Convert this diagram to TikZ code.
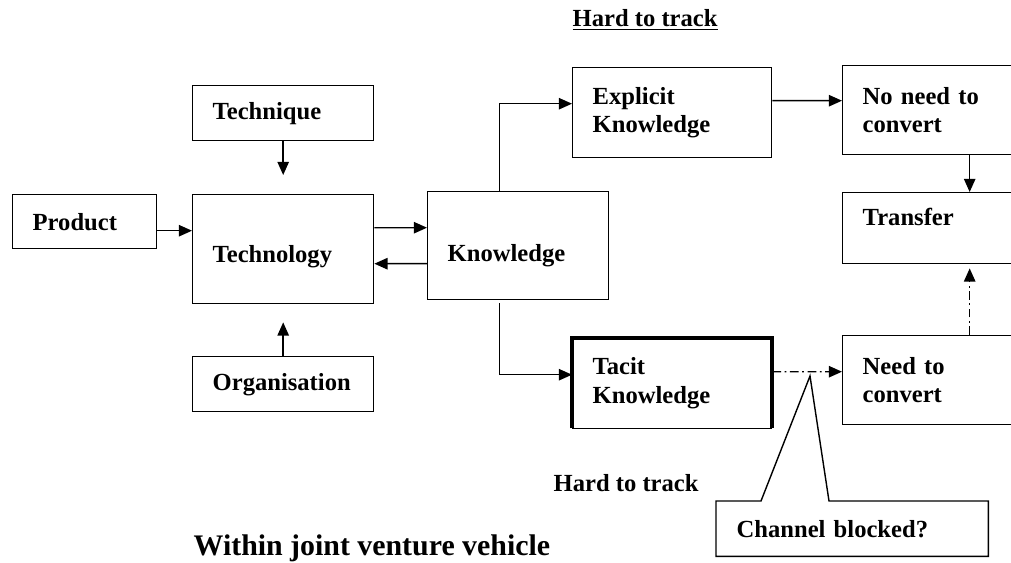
\documentclass[tikz,border=0pt]{standalone}
\usepackage{fontspec}
\setmainfont{Liberation Serif}
\usetikzlibrary{arrows.meta,calc}

\begin{document}
\begin{tikzpicture}[x=0.02cm, y=-0.02cm, >={Triangle[length=7.5pt,width=6.5pt]}, line width=0.8pt,
  box/.style={draw, anchor=north west, inner xsep=0.4cm, inner ysep=0pt, align=left,
    font=\fontsize{14}{16}\selectfont\bfseries},
  lbl/.style={anchor=west, inner sep=0pt, font=\fontsize{14}{16}\selectfont\bfseries},
  dashdot/.style={dash pattern=on 5pt off 2pt on 1pt off 2pt}]
  \useasboundingbox (0,0) rectangle (1011,562);

  % left part: what feeds technology
  \node[box, text width=2.82cm, minimum height=1.1cm] (technique) at (192,85) {Technique};
  \node[box, text width=2.08cm, minimum height=1.08cm] (product) at (12,194) {Product};
  \node[box, text width=2.82cm, minimum height=2.18cm, text height=0.63cm] (technology) at (192,194) {Technology};
  \node[box, text width=2.82cm, minimum height=1.1cm] (organisation) at (192,356) {Organisation};
  \node[box, text width=2.82cm, minimum height=2.16cm, text height=0.73cm] (knowledge) at (427,191) {Knowledge};

  % explicit and tacit branches
  \node[box, text width=3.18cm, minimum height=1.8cm] (explicit) at (572,67) {Explicit\\Knowledge};
  \node[box, draw=none, text width=3.18cm, minimum height=1.78cm] (tacit) at (572,338) {Tacit\\Knowledge};
  \draw[line width=2.2pt] (tacit.south west) -- (tacit.north west) -- (tacit.north east) -- (tacit.south east);
  \draw (tacit.south west) -- (tacit.south east);

  % right column, cut by the page edge
  \node[box, text width=4.28cm, minimum height=1.78cm] (noneed) at (842,65) {No need to\\convert};
  \node[box, text width=4.28cm, minimum height=1.42cm, text depth=0.44cm] (transfer) at (842,192) {Transfer};
  \node[box, text width=4.28cm, minimum height=1.78cm] (need) at (842,335) {Need to\\convert};

  \node[lbl] (hardtop) at (572,20) {\underline{Hard to track}};
  \node[lbl] (hardlow) at (553,483) {Hard to track};
  \node[lbl, font=\fontsize{17}{20}\selectfont\bfseries] (jv) at (193,548) {Within joint venture vehicle};

  % callout
  \node[anchor=north west, inner xsep=0.4cm, inner ysep=0pt, align=left, text width=4.62cm,
    minimum height=1.08cm, font=\fontsize{14}{16}\selectfont\bfseries] (channel) at (716,501) {Channel blocked?};
  \coordinate (tip) at (810,376);
  \draw ($(channel.north west)+(45,0)$) -- (tip) -- ($(channel.north west)+(113,0)$)
    -- (channel.north east) -- (channel.south east) -- (channel.south west) -- (channel.north west) -- cycle;

  \draw[->] ([yshift=-0.18cm]product.east) -- ([yshift=-0.18cm]product.east -| technology.west);
  \draw[->, shorten >=0.38cm] (technique) -- (technology);
  \draw[->, shorten >=0.36cm] (organisation) -- (technology);
  \draw[->] ([yshift=0.43cm]technology.east) -- ([yshift=0.36cm]knowledge.west);
  \draw[->] ([yshift=-0.36cm]knowledge.west) -- ([yshift=-0.29cm]technology.east);
  \draw[->] ([xshift=-0.37cm]knowledge.north) |- ([yshift=0.18cm]explicit.west);
  \draw[->] ([xshift=-0.37cm,yshift=-0.06cm]knowledge.south) |- ([yshift=0.17cm]tacit.west);
  \draw[->] ([yshift=0.24cm]explicit.east) -- ([yshift=0.19cm]noneed.west);
  \draw[->] (noneed) -- (transfer);
  \draw[->, dashdot] ([yshift=0.23cm]tacit.east) -- ([yshift=0.17cm]need.west);
  \draw[->, dashdot, shorten >=0.08cm] (need) -- (transfer);
\end{tikzpicture}
\end{document}
